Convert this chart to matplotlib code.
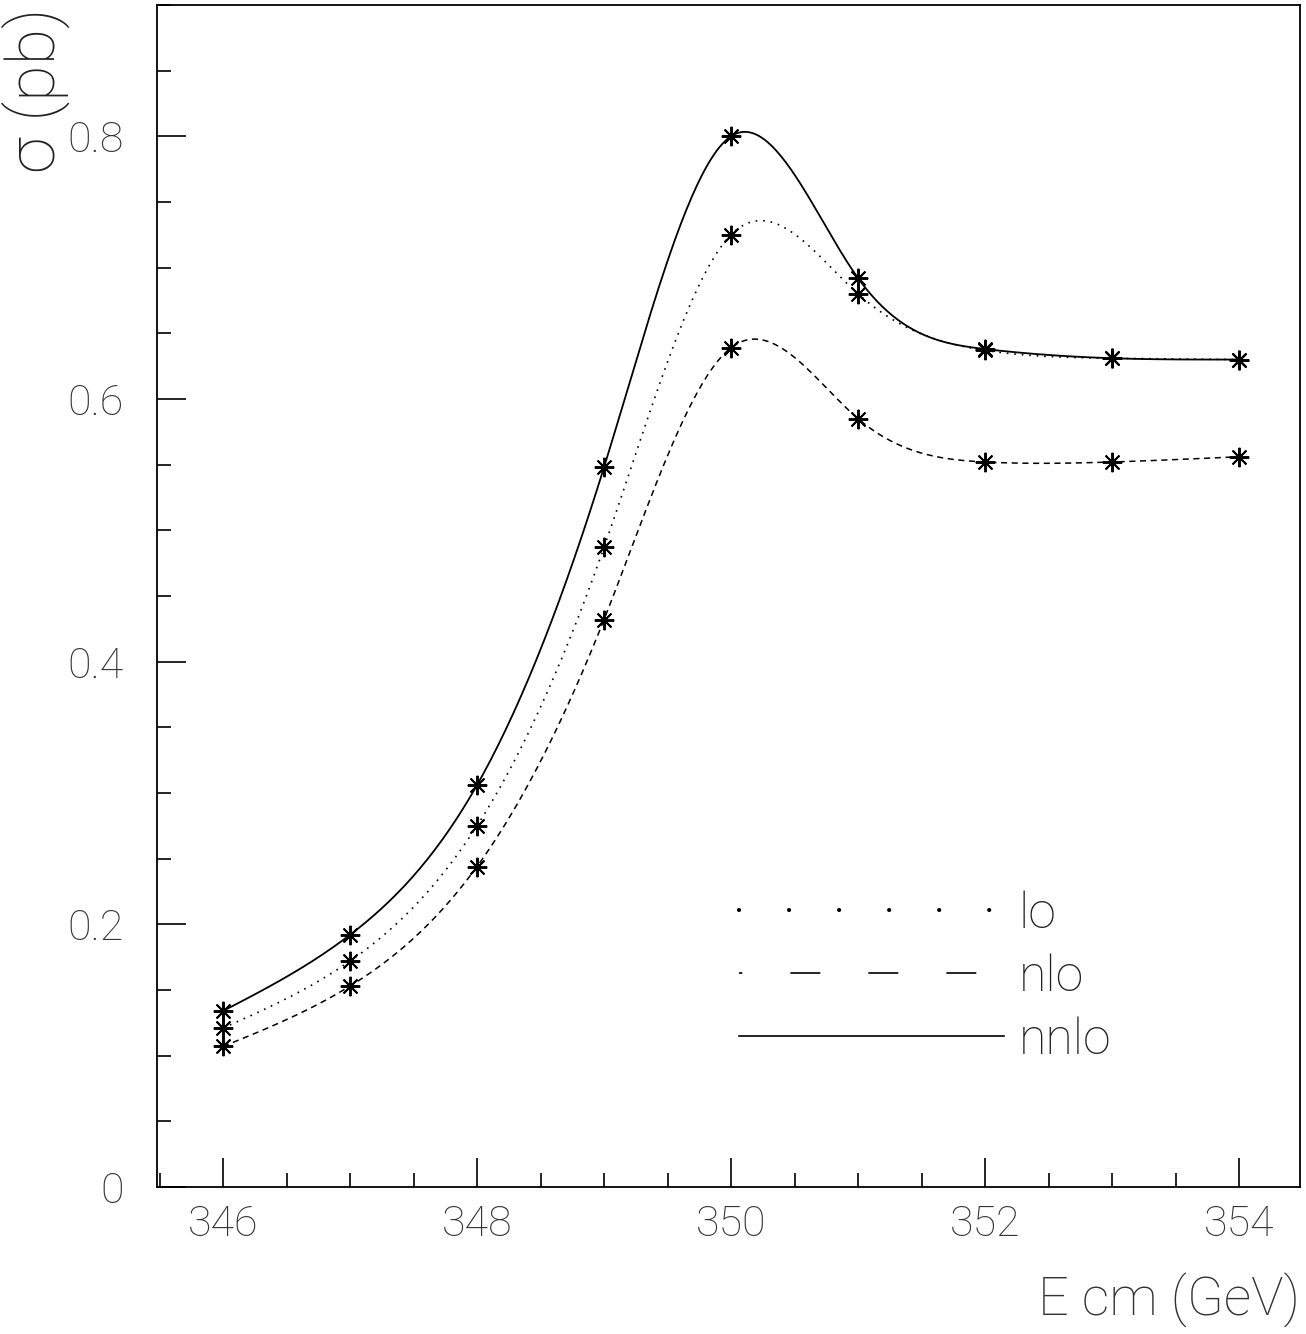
import numpy as np
import matplotlib
matplotlib.use('Agg')
import matplotlib.pyplot as plt
from matplotlib.lines import Line2D
from matplotlib.ticker import MultipleLocator

# DATA - sigma (pb) vs E cm (GeV)
ecm = [346, 347, 348, 349, 350, 351, 352, 353, 354]
sig_lo = [0.121, 0.172, 0.275, 0.487, 0.725, 0.680, 0.637, 0.631, 0.630]
sig_nlo = [0.107, 0.153, 0.244, 0.432, 0.639, 0.585, 0.552, 0.552, 0.556]
sig_nnlo = [0.134, 0.192, 0.306, 0.548, 0.800, 0.692, 0.638, 0.631, 0.630]
labels = ['lo', 'nlo', 'nnlo']
xticks = [346, 348, 350, 352, 354]
yticks = [0, 0.2, 0.4, 0.6, 0.8]


def spline(x, y, n=400):
    # natural cubic spline, drawn through the points like the PAW smooth curve
    x = np.asarray(x, float); y = np.asarray(y, float)
    k = len(x); hh = np.diff(x)
    A = np.zeros((k, k)); b = np.zeros(k)
    A[0, 0] = A[-1, -1] = 1
    for i in range(1, k - 1):
        A[i, i-1] = hh[i-1]; A[i, i] = 2*(hh[i-1] + hh[i]); A[i, i+1] = hh[i]
        b[i] = 6*((y[i+1]-y[i])/hh[i] - (y[i]-y[i-1])/hh[i-1])
    M = np.linalg.solve(A, b)
    xs = np.linspace(x[0], x[-1], n)
    j = np.clip(np.searchsorted(x, xs) - 1, 0, k - 2)
    t0 = x[j+1] - xs; t1 = xs - x[j]; h = hh[j]
    ys = (M[j]*t0**3 + M[j+1]*t1**3)/(6*h) + (y[j]/h - M[j]*h/6)*t0 + (y[j+1]/h - M[j+1]*h/6)*t1
    return xs, ys


plt.rcParams['font.family'] = ['Roboto', 'DejaVu Sans']
plt.rcParams['font.weight'] = 'light'

fig = plt.figure(figsize=(13.06, 13.34), dpi=100)
ax = fig.add_axes([0.1202, 0.1102, 0.8752, 0.8861])

styles = [dict(ls=(0, (1, 3.5)), lw=1.2), dict(ls=(0, (4, 3)), lw=1.1), dict(ls='-', lw=1.3)]
for ys, st in zip([sig_lo, sig_nlo, sig_nnlo], styles):
    xs, yy = spline(ecm, ys)
    ax.plot(xs, yy, color='black', **st)
    ax.plot(ecm, ys, ls='none', marker=(8, 2, 0), ms=14, mew=1.4, color='black')

ax.set_xlim(345.48, 354.48)
ax.set_ylim(0, 0.9)
ax.set_xticks(xticks)
ax.set_xticklabels([str(v) for v in xticks])
ax.set_yticks(yticks)
ax.set_yticklabels(['0', '0.2', '0.4', '0.6', '0.8'])
ax.xaxis.set_minor_locator(MultipleLocator(0.5))
ax.yaxis.set_minor_locator(MultipleLocator(0.05))
ax.tick_params(which='major', direction='in', length=21, width=1.2, labelsize=31,
               labelcolor='#333333', top=False, right=False)
ax.tick_params(which='minor', direction='in', length=10, width=1.2, top=False, right=False)
ax.tick_params(axis='x', pad=12)
ax.tick_params(axis='y', pad=24)
for s in ax.spines.values():
    s.set_linewidth(1.3)

# legend with sparse patterns like the original key
handles = [Line2D([], [], color='black', ls=(0, (0.01, 12)), lw=3, dash_capstyle='round'),
           Line2D([], [], color='black', ls=(16, (18, 28.8)), lw=1.2),
           Line2D([], [], color='black', ls='-', lw=1.2)]
ax.legend(handles, labels, loc='lower left', bbox_to_anchor=(0.487, 0.083), frameon=False,
          borderpad=0, fontsize=36, handlelength=5.3, handletextpad=0.3, labelspacing=0.31,
          labelcolor='#222222')

fig.text(36/1306, 1 - 8/1334, 'σ (pb)', rotation=90, ha='center', va='top',
         fontsize=48, color='#222222')
fig.text(1300/1306, 1 - 1300/1334, 'E cm (GeV)', ha='right', va='center',
         fontsize=39, color='#333333')

fig.savefig('out.png', dpi=100, facecolor='white')
